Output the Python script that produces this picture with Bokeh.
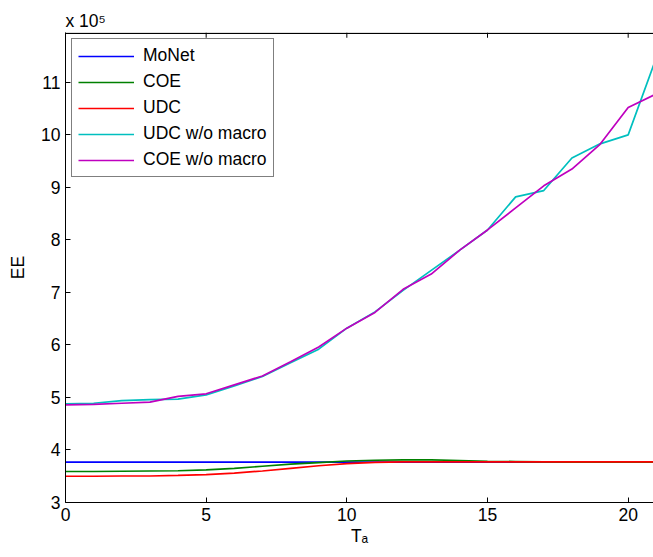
from bokeh.plotting import figure
from bokeh.models import Range1d, FixedTicker, Legend, LegendItem
from bokeh.embed import file_html
from bokeh.resources import INLINE

# ---- data ----
t_a = [0, 1, 2, 3, 4, 5, 6, 7, 8, 9, 10, 11, 12, 13, 14, 15, 16, 17, 18, 19, 20, 21]
monet = [3.77, 3.77, 3.77, 3.77, 3.77, 3.77, 3.77, 3.77, 3.77, 3.77, 3.77,
         3.77, 3.77, 3.77, 3.77, 3.77, 3.77, 3.77, 3.77, 3.77, 3.77, 3.77]
coe = [3.59, 3.59, 3.595, 3.60, 3.605, 3.62, 3.65, 3.69, 3.73, 3.76, 3.79,
       3.805, 3.81, 3.81, 3.80, 3.785, 3.78, 3.775, 3.77, 3.77, 3.77, 3.77]
udc = [3.50, 3.50, 3.505, 3.505, 3.515, 3.53, 3.56, 3.60, 3.65, 3.70, 3.74,
       3.765, 3.775, 3.775, 3.775, 3.775, 3.775, 3.775, 3.775, 3.775, 3.775, 3.775]
udc_wo = [4.88, 4.89, 4.94, 4.96, 4.97, 5.05, 5.22, 5.40, 5.66, 5.92, 6.32,
          6.63, 7.04, 7.42, 7.80, 8.19, 8.82, 8.94, 9.56, 9.83, 10.00, 11.47]
coe_wo = [4.86, 4.87, 4.89, 4.91, 5.02, 5.07, 5.24, 5.41, 5.68, 5.96, 6.32,
          6.62, 7.06, 7.35, 7.80, 8.19, 8.61, 9.03, 9.35, 9.82, 10.52, 10.78]

series_names = ["MoNet", "COE", "UDC", "UDC w/o macro", "COE w/o macro"]
series_vals = [monet, coe, udc, udc_wo, coe_wo]
series_colors = ["#0000FF", "#008000", "#FF0000", "#00BFBF", "#BF00BF"]

x_ticks = [0, 5, 10, 15, 20]
y_ticks = [3, 4, 5, 6, 7, 8, 9, 10, 11]

FONT = "Liberation Sans"
FS = "17.5px"
X_END = 20.90
Y_TOP = 11.95

p = figure(width=653, height=557, output_backend="svg", toolbar_location=None,
           x_range=Range1d(0, X_END), y_range=Range1d(3, Y_TOP),
           min_border_left=65, min_border_right=0, min_border_top=32,
           min_border_bottom=55, x_axis_label="Tₐ", y_axis_label="EE",
           title="x 10⁵")
p.outline_line_color = None
p.xgrid.visible = False
p.ygrid.visible = False
p.background_fill_color = "white"
p.border_fill_color = "white"
p.title.text_font = FONT
p.title.text_font_size = FS
p.title.text_font_style = "normal"
p.title.text_color = "black"
p.title.offset = 0
p.title.standoff = 3

renderers = []
for name, vals, col in zip(series_names, series_vals, series_colors):
    r = p.line(t_a, vals, line_color=col, line_width=1.7)
    renderers.append(r)

# top border of the box with inward ticks (MATLAB "box on")
p.line([0, X_END], [Y_TOP - 0.016, Y_TOP - 0.016], line_color="black", line_width=1.3)
p.segment(x0=x_ticks, y0=[Y_TOP] * len(x_ticks), x1=x_ticks,
          y1=[Y_TOP - 0.1] * len(x_ticks), line_color="black", line_width=1)

def style_axis(ax):
    ax.axis_line_color = "black"
    ax.axis_line_width = 1
    ax.major_tick_line_color = "black"
    ax.major_tick_in = 5
    ax.major_tick_out = 0
    ax.minor_tick_line_color = None
    ax.major_label_text_font = FONT
    ax.major_label_text_font_size = FS
    ax.major_label_text_color = "black"
    ax.axis_label_text_font = FONT
    ax.axis_label_text_font_size = FS
    ax.axis_label_text_font_style = "normal"
    ax.axis_label_text_color = "black"

p.xaxis.ticker = FixedTicker(ticks=x_ticks)
p.yaxis.ticker = FixedTicker(ticks=y_ticks)
style_axis(p.xaxis[0])
style_axis(p.yaxis[0])
p.xaxis.major_label_standoff = 5
p.xaxis.axis_label_standoff = 2
p.yaxis.major_label_standoff = 5
p.yaxis.axis_label_standoff = 10

legend = Legend(items=[LegendItem(label=n, renderers=[r]) for n, r in zip(series_names, renderers)],
                location="top_left")
legend.margin = 6
legend.padding = 6
legend.spacing = 5
legend.glyph_width = 56
legend.glyph_height = 20
legend.label_height = 20
legend.label_standoff = 9
legend.label_text_font = FONT
legend.label_text_font_size = FS
legend.label_text_color = "black"
legend.border_line_color = "black"
legend.border_line_width = 1
legend.background_fill_color = "white"
legend.background_fill_alpha = 1.0
p.add_layout(legend)

open("out.html", "w").write(file_html(p, INLINE))
